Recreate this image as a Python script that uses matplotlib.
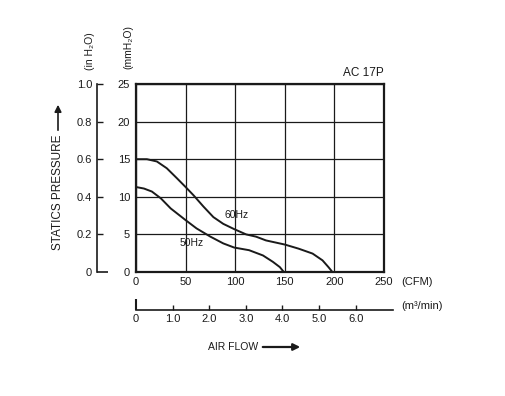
import matplotlib
matplotlib.use("Agg")
import matplotlib.pyplot as plt
from matplotlib.patches import FancyArrowPatch

plt.rcParams['font.family'] = ['Liberation Sans', 'DejaVu Sans']

# ---- data (CFM vs mmH2O) ----
flow_60 = [0, 11, 21, 31, 41, 50, 58, 68, 78, 88, 99, 111, 121, 131,
           150, 164, 178, 188, 194, 198]
pres_60 = [15.0, 15.0, 14.7, 13.8, 12.5, 11.3, 10.2, 8.7, 7.3, 6.4, 5.7,
           5.0, 4.7, 4.2, 3.65, 3.1, 2.45, 1.55, 0.65, 0.0]
flow_50 = [0, 8, 16, 25, 35, 50, 61, 75, 88, 99, 114, 128, 138, 145, 149]
pres_50 = [11.3, 11.1, 10.7, 9.8, 8.45, 6.9, 5.8, 4.7, 3.8, 3.25, 2.9,
           2.2, 1.35, 0.65, 0.0]

cfm_ticks = [0, 50, 100, 150, 200, 250]
mm_ticks = [0, 5, 10, 15, 20, 25]
inch_ticks = [0.2, 0.4, 0.6, 0.8, 1.0]
inch_labels = ['0.2', '0.4', '0.6', '0.8', '1.0']
m3_ticks = [1, 2, 3, 4, 5, 6]
m3_labels = ['1.0', '2.0', '3.0', '4.0', '5.0', '6.0']

W, H = 506, 396
DPI = 100
fig = plt.figure(figsize=(W / DPI, H / DPI), dpi=DPI)

def fx(px):
    return px / W

def fy(py):
    return 1 - py / H

def pt(px):
    return px * 72 / DPI

L, R, T, B = 136, 384, 84, 272
rect = [fx(L), fy(B), (R - L) / W, (B - T) / H]
ink = '#1a1a1a'

# main chart (mmH2O vs CFM)
ax = fig.add_axes(rect)
ax.set_xlim(0, 250)
ax.set_ylim(0, 25)
ax.set_xticks(cfm_ticks)
ax.set_yticks(mm_ticks)
ax.tick_params(length=0, labelsize=8, colors=ink)
ax.tick_params(axis='y', pad=pt(6))
ax.tick_params(axis='x', pad=pt(5))
ax.grid(True, color=ink, lw=0.9)
for s in ax.spines.values():
    s.set_linewidth(1.6)
    s.set_color(ink)

ax.plot(flow_60, pres_60, color=ink, lw=1.4, solid_joinstyle='round')
ax.plot(flow_50, pres_50, color=ink, lw=1.4, solid_joinstyle='round')
ax.text(89, 7.6, '60Hz', fontsize=7.5, color=ink, va='center')
ax.text(44, 3.9, '50Hz', fontsize=7.5, color=ink, va='center')
ax.text(250, 25.6, 'AC 17P', fontsize=8.5, color=ink, ha='right', va='bottom')

# outer inch H2O axis
ax2 = fig.add_axes(rect)
ax2.patch.set_visible(False)
for k in ['top', 'right', 'bottom']:
    ax2.spines[k].set_visible(False)
ax2.spines['left'].set_position(('outward', pt(39)))
ax2.spines['left'].set_linewidth(1.2)
ax2.spines['left'].set_color(ink)
ax2.set_ylim(0, 1.0)
ax2.set_xticks([])
ax2.set_yticks(inch_ticks)
ax2.set_yticklabels(inch_labels)
ax2.set_yticks([0], minor=True)
ax2.set_yticklabels(['0'], minor=True)
ax2.tick_params(axis='y', which='major', direction='in', length=pt(6), width=1,
                labelsize=8, colors=ink, pad=pt(5))
ax2.tick_params(axis='y', which='minor', direction='in', length=pt(11), width=1.2,
                labelsize=8, colors=ink, pad=pt(5))

# bottom m3/min axis
rect3 = [fx(L), fy(B), (393 - L) / W, (B - T) / H]
ax3 = fig.add_axes(rect3)
ax3.patch.set_visible(False)
for k in ['top', 'right', 'left']:
    ax3.spines[k].set_visible(False)
ax3.spines['bottom'].set_position(('outward', pt(38)))
ax3.spines['bottom'].set_linewidth(1.2)
ax3.spines['bottom'].set_color(ink)
ax3.set_xlim(0, (393 - L) / 36.6)
ax3.set_yticks([])
ax3.set_xticks(m3_ticks)
ax3.set_xticklabels(m3_labels)
ax3.set_xticks([0], minor=True)
ax3.set_xticklabels(['0'], minor=True)
ax3.tick_params(axis='x', which='major', direction='in', length=pt(5), width=1,
                labelsize=8, colors=ink, pad=pt(4))
ax3.tick_params(axis='x', which='minor', direction='in', length=pt(11), width=1.5,
                labelsize=8, colors=ink, pad=pt(4))

# unit labels
fig.text(fx(401), fy(282), '(CFM)', fontsize=8, color=ink, va='center')
fig.text(fx(401), fy(306), '(m³/min)', fontsize=8, color=ink, va='center')
fig.text(fx(90), fy(51), '(in H₂O)', fontsize=7.5, color=ink, rotation=90,
         ha='center', va='center')
fig.text(fx(128), fy(47), '(mmH₂O)', fontsize=7.5, color=ink, rotation=90,
         ha='center', va='center')

fig.text(fx(58), fy(250), 'STATICS PRESSURE', fontsize=8.5, color=ink,
         rotation=90, ha='center', va='bottom')
fig.add_artist(FancyArrowPatch(
    (fx(58), fy(133)), (fx(58), fy(102)), transform=fig.transFigure,
    arrowstyle='-|>', mutation_scale=10, color=ink, lw=1.2))

fig.text(fx(258), fy(347), 'AIR FLOW', fontsize=7.5, color=ink,
         ha='right', va='center')
fig.add_artist(FancyArrowPatch(
    (fx(260), fy(347)), (fx(303), fy(347)), transform=fig.transFigure,
    arrowstyle='-|>', mutation_scale=10, color=ink, lw=1.6))

fig.savefig('out.png', dpi=DPI)
